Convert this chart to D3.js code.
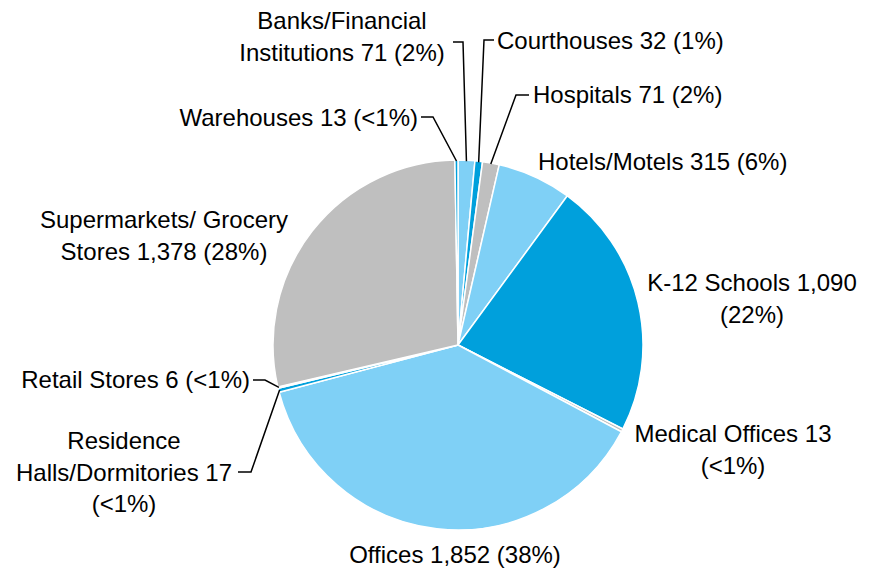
<!DOCTYPE html>
<html>
<head>
<meta charset="utf-8">
<script src="https://cdn.jsdelivr.net/npm/d3@7"></script>
<style>
  body { margin: 0; background: #fff; }
  text { font-family: "Liberation Sans", Arial, sans-serif; font-size: 24px; fill: #000; }
</style>
</head>
<body>
<div id="chart"></div>
<script>
'use strict';

var categories = ["Banks/Financial Institutions", "Courthouses", "Hospitals", "Hotels/Motels",
  "K-12 Schools", "Medical Offices", "Offices", "Residence Halls/Dormitories",
  "Retail Stores", "Supermarkets/ Grocery Stores", "Warehouses"];
var values = [71, 32, 71, 315, 1090, 13, 1852, 17, 6, 1378, 13];
var percents = ["2%", "1%", "2%", "6%", "22%", "<1%", "38%", "<1%", "<1%", "28%", "<1%"];
var labelLines = [
  ["Banks/Financial", "Institutions 71 (2%)"],
  ["Courthouses 32 (1%)"],
  ["Hospitals 71 (2%)"],
  ["Hotels/Motels 315 (6%)"],
  ["K-12 Schools 1,090", "(22%)"],
  ["Medical Offices 13", "(<1%)"],
  ["Offices 1,852 (38%)"],
  ["Residence", "Halls/Dormitories 17", "(<1%)"],
  ["Retail Stores 6 (<1%)"],
  ["Supermarkets/ Grocery", "Stores 1,378 (28%)"],
  ["Warehouses 13 (<1%)"]
];

var svgWidth = 869, svgHeight = 570,
    cx = 458, cy = 345, radius = 185,
    lineHeight = 31.5;

// label anchor: x, baseline of first line, anchor, and elbow of leader (if any)
var labelPos = [
  { x: 342, y: 29, anchor: "middle", leader: [[453, 42], [463, 42]] },
  { x: 497, y: 49, anchor: "start", leader: [[494, 40], [484, 40]] },
  { x: 533, y: 103, anchor: "start", leader: [[529, 95], [516, 95]] },
  { x: 538, y: 170, anchor: "start" },
  { x: 752, y: 291, anchor: "middle" },
  { x: 733, y: 442, anchor: "middle" },
  { x: 455, y: 563, anchor: "middle" },
  { x: 124, y: 449, anchor: "middle", leader: [[238, 472], [251, 472]] },
  { x: 250, y: 388, anchor: "end", leader: [[253, 380], [265, 380]] },
  { x: 164, y: 228, anchor: "middle" },
  { x: 418, y: 126, anchor: "end", leader: [[421, 117], [433, 117]] }
];

var color = d3.scaleOrdinal()
  .domain(categories)
  .range(["#7fd0f6", "#00a0dc", "#bfbfbf", "#7fd0f6", "#00a0dc", "#bfbfbf",
          "#7fd0f6", "#00a0dc", "#7fd0f6", "#bfbfbf", "#00a0dc"]);

var data = categories.map(function(c, i) {
  return { name: c, value: values[i], pct: percents[i], lines: labelLines[i], pos: labelPos[i] };
});

var svg = d3.select("#chart").append("svg")
  .attr("width", svgWidth)
  .attr("height", svgHeight);

var pie = d3.pie()
  .sort(null)
  .value(function(d) { return d.value; });

var arc = d3.arc().innerRadius(0).outerRadius(radius);

var arcs = pie(data);

var g = svg.append("g")
  .attr("transform", "translate(" + cx + "," + cy + ")");

g.selectAll("path.slice")
  .data(arcs)
  .enter().append("path")
  .attr("class", "slice")
  .attr("d", arc)
  .attr("fill", function(d) { return color(d.data.name); })
  .attr("stroke", "#fff")
  .attr("stroke-width", 1.5)
  .attr("stroke-linejoin", "round");

// leader lines, ending on the slice edge at its mid angle
var line = d3.line();
arcs.forEach(function(a) {
  var p = a.data.pos;
  if (!p.leader) return;
  var mid = (a.startAngle + a.endAngle) / 2;
  var end = [cx + (radius - 1) * Math.sin(mid), cy - (radius - 1) * Math.cos(mid)];
  svg.append("path")
    .attr("d", line(p.leader.concat([end])))
    .attr("fill", "none")
    .attr("stroke", "#000")
    .attr("stroke-width", 1.5);
});

// labels
var labels = svg.selectAll("text.label")
  .data(data)
  .enter().append("text")
  .attr("class", "label")
  .attr("text-anchor", function(d) { return d.pos.anchor; });

labels.each(function(d) {
  var t = d3.select(this);
  d.lines.forEach(function(l, i) {
    t.append("tspan")
      .attr("x", d.pos.x)
      .attr("y", d.pos.y + i * lineHeight)
      .text(l);
  });
});
</script>
</body>
</html>
